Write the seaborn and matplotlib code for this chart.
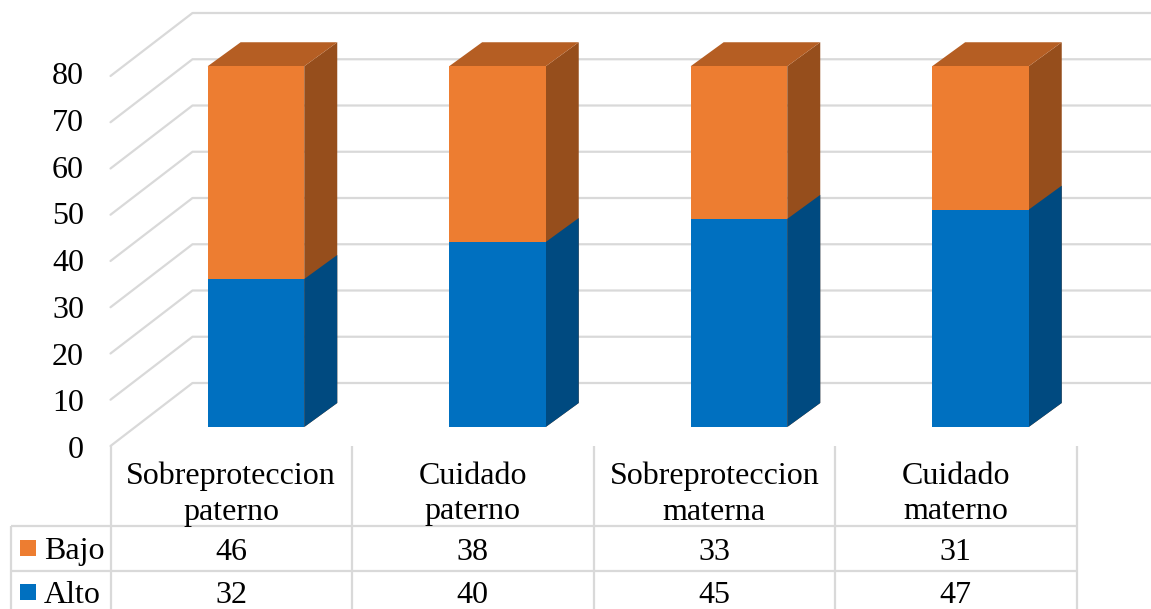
import matplotlib
matplotlib.use("Agg")
import matplotlib.pyplot as plt
from matplotlib.patches import Polygon, Rectangle
from matplotlib.lines import Line2D
import pandas as pd
import seaborn as sns

categorias = ["Sobreproteccion\npaterno", "Cuidado\npaterno", "Sobreproteccion\nmaterna", "Cuidado\nmaterno"]
bajo = [46, 38, 33, 31]
alto = [32, 40, 45, 47]
ticks = [0, 10, 20, 30, 40, 50, 60, 70, 80]

W, H = 1151, 609
NARANJA, NARANJA_TOP, NARANJA_SIDE = "#ED7D31", "#B55E23", "#964E1C"
AZUL, AZUL_SIDE = "#0070C0", "#004A80"
GRIS = "#D9D9D9"
LW = 1.6

sns.set_theme(style="white")
plt.rcParams["font.family"] = ["Liberation Serif", "DejaVu Serif"]
FS = 23

fig = plt.figure(figsize=(W / 100, H / 100), dpi=100)
# ejes = plano frontal del grafico 3D (0 en y=446, 80 en y=76)
ax = fig.add_axes([110.5 / W, 1 - 446 / H, 966 / W, 370 / H])

df = pd.DataFrame({"cat": categorias, "alto": alto, "bajo": bajo})
df["total"] = df["alto"] + df["bajo"]

sns.barplot(data=df, x="cat", y="total", color=NARANJA, saturation=1, width=0.4, ax=ax, zorder=5)
n_top = len(ax.patches)
sns.barplot(data=df, x="cat", y="alto", color=AZUL, saturation=1, width=0.4, ax=ax, zorder=5)
ax.set_xlim(-0.5, 3.5)
ax.set_ylim(0, 80)
ax.axis("off")
fig.canvas.draw()


def to_px(x, y):
    # datos -> pixeles de la figura
    return ax.transData.transform((x, y))


def line_px(xs, ys, **kw):
    fig.add_artist(Line2D([x / W for x in xs], [1 - y / H for y in ys], color=GRIS, lw=LW,
                          transform=fig.transFigure, solid_capstyle="butt", zorder=1, **kw))


# paredes: rejilla diagonal + horizontal al fondo
back_dx, back_dy = 82, 63
for t in ticks:
    x0, y0 = to_px(-0.5, t)
    x1, _ = to_px(3.5, t)
    fig.add_artist(Line2D([x0, x0 + back_dx, x1 + back_dx - 1], [y0, y0 + back_dy, y0 + back_dy], color=GRIS,
                          lw=LW, transform=None, zorder=1))

# caras de las barras: frente desplazado, lateral y tapa
shift_x, shift_y = 24.7, 19
depth_x, depth_y = 33, 24
for i, p in enumerate(ax.patches):
    x, w, h = p.get_x(), p.get_width(), p.get_height()
    lx, by = to_px(x, 0)
    rx, ty = to_px(x + w, h)
    lx, rx = lx + shift_x, rx + shift_x
    by, ty = by + shift_y, ty + shift_y
    fig.add_artist(Rectangle((lx, by), rx - lx, ty - by, color=p.get_facecolor(), lw=0, transform=None,
                             zorder=4))
    side = NARANJA_SIDE if i < n_top else AZUL_SIDE
    fig.add_artist(Polygon([(rx, by), (rx + depth_x, by + depth_y), (rx + depth_x, ty + depth_y), (rx, ty)],
                           color=side, lw=0, transform=None, zorder=3))
    if i < n_top:
        fig.add_artist(Polygon([(lx, ty), (lx + depth_x, ty + depth_y), (rx + depth_x, ty + depth_y), (rx, ty)],
                               color=NARANJA_TOP, lw=0, transform=None, zorder=3))
    p.set_visible(False)

# etiquetas del eje y
for t in ticks:
    xp, yp = to_px(-0.5, t)
    fig.text(84 / W, (yp + 0.047 * t - 1) / H, str(t), ha="right", va="center_baseline", fontsize=FS, color="black")

# tabla de datos
col = [110.5 + 241.5 * i for i in range(5)]
fila = [526, 571]
for x in col:
    line_px([x, x], [446, 609])
line_px([10.5, 10.5], [526, 609])
for y in fila:
    line_px([10.5, col[-1]], [y, y])

for i, c in enumerate(categorias):
    cx = (col[i] + col[i + 1]) / 2
    fig.text(cx / W, 1 - 494 / H, c, ha="center", va="center", fontsize=FS, color="black", linespacing=1.3)
    fig.text(cx / W, 1 - 549 / H, str(bajo[i]), ha="center", va="center_baseline", fontsize=FS, color="black")
    fig.text(cx / W, 1 - 592 / H, str(alto[i]), ha="center", va="center_baseline", fontsize=FS, color="black")

for nombre, yc, color in [("Bajo", 548, NARANJA), ("Alto", 592, AZUL)]:
    fig.add_artist(Rectangle((20 / W, 1 - (yc + 8) / H), 16 / W, 16 / H, color=color, lw=0, transform=fig.transFigure))
    fig.text(44 / W, 1 - yc / H, nombre, ha="left", va="center_baseline", fontsize=FS, color="black")

fig.savefig("out.png", dpi=100, facecolor="white")
